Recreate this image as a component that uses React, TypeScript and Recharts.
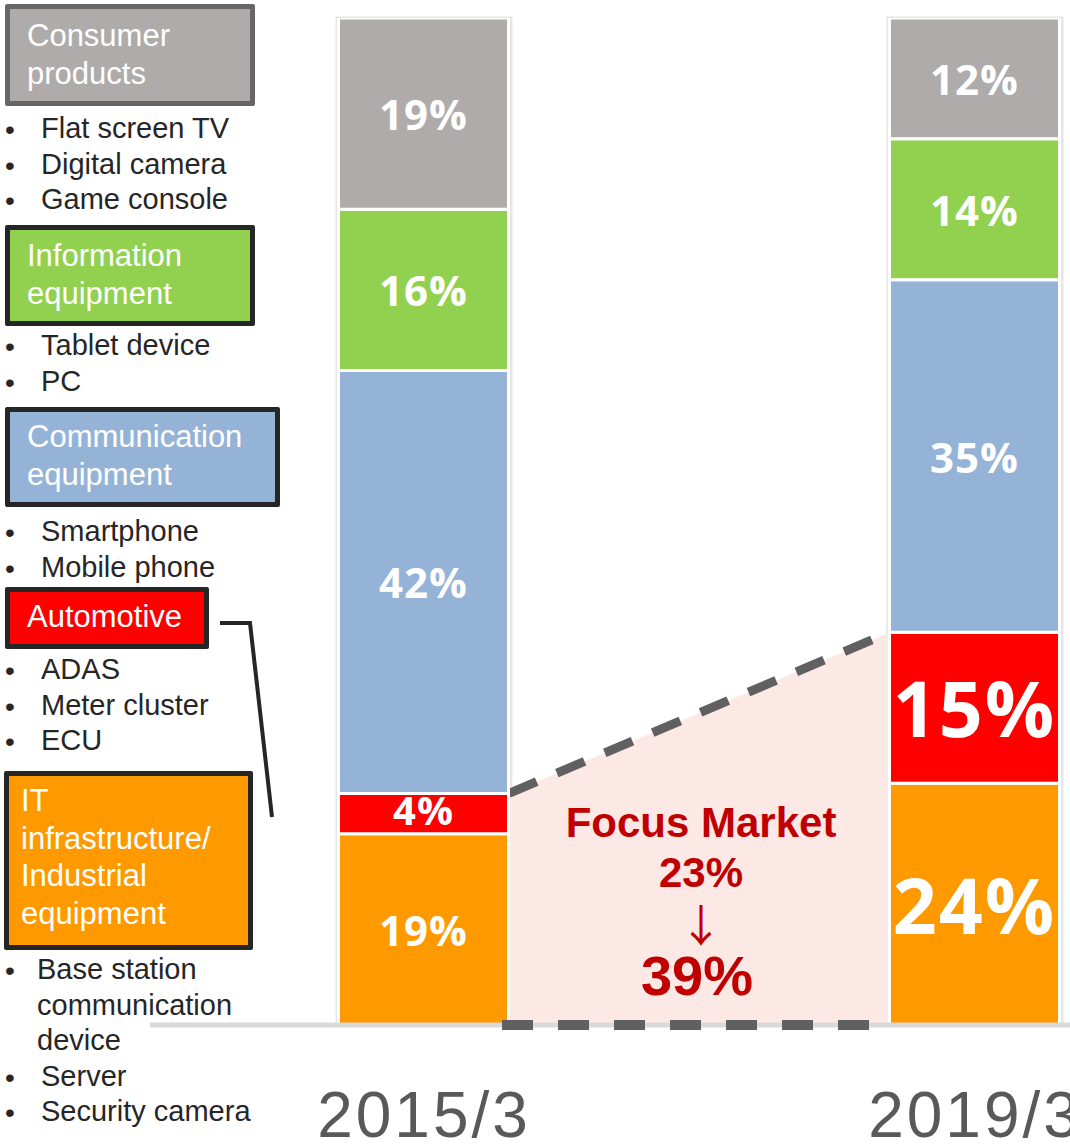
import { ComposedChart, Bar, Area, XAxis, YAxis, LabelList, ReferenceLine, ReferenceArea } from "recharts";

// data
const periods = ["2015/3", "2019/3"];
const itInfra = [19, 24];
const automotive = [4, 15];
const communication = [42, 35];
const information = [16, 14];
const consumer = [19, 12];

const segments = [
    { key: "it", color: "#ff9900", values: itInfra },
    { key: "auto", color: "#ff0000", values: automotive },
    { key: "comm", color: "#95b3d7", values: communication },
    { key: "info", color: "#92d050", values: information },
    { key: "cons", color: "#aeabaa", values: consumer },
];

const legendGroups = [
    { lines: ["Consumer", "products"], fill: "#aeabaa", border: "#666666", items: ["Flat screen TV", "Digital camera", "Game console"] },
    { lines: ["Information", "equipment"], fill: "#92d050", border: "#262626", items: ["Tablet device", "PC"] },
    { lines: ["Communication", "equipment"], fill: "#95b3d7", border: "#262626", items: ["Smartphone", "Mobile phone"] },
    { lines: ["Automotive"], fill: "#ff0000", border: "#262626", items: ["ADAS", "Meter cluster", "ECU"] },
    { lines: ["IT", "infrastructure/", "Industrial", "equipment"], fill: "#ff9900", border: "#262626", items: [["Base station", "communication", "device"], "Server", "Security camera"] },
];

// layout
const W = 1070;
const H = 1146;
const PLOT_L = 150;
const X0 = 424;
const X1 = 975;
const UNIT = X1 - X0;
const BAR = 170;
const HALF = BAR / 2 / UNIT;
const xDomain = [(PLOT_L - X0) / UNIT, 1 + (W - X1) / UNIT];

const boxLayout = [
    { x: 5, y: 4, w: 250, h: 102, tx: 17, ty: 8 },
    { x: 5, y: 225, w: 250, h: 101, tx: 17, ty: 7 },
    { x: 5, y: 407, w: 275, h: 100, tx: 17, ty: 6 },
    { x: 5, y: 587, w: 204, h: 62, tx: 17, ty: 6 },
    { x: 4, y: 771, w: 249, h: 179, tx: 12, ty: 6 },
];
const bulletStart = [129, 346, 532, 670, 970];
const STEP = 35.5;

const SANS = "'Liberation Sans', Arial, sans-serif";

const YearTick = (props: any) => {
    const { x, y, payload } = props;
    return (
        <text x={x} y={y + 112} textAnchor="middle" fill="#595959" fontSize={64} fontFamily={SANS} letterSpacing={3}>
            {periods[payload.value]}
        </text>
    );
};

const SegmentLabel = (props: any) => {
    const { x, y, width, height, value, index, seg } = props;
    const big = index === 1 && (seg === "it" || seg === "auto");
    const size = big ? 77 : seg === "auto" ? 40 : 42;
    return (
        <text
            x={x + width / 2}
            y={y + height / 2 - (seg === "auto" && index === 0 ? 4 : 0)}
            textAnchor="middle"
            dominantBaseline="central"
            fill="#fff"
            fontSize={size}
            fontWeight={700}
            fontFamily="'Open Sans', sans-serif"
            letterSpacing={big ? 2 : 1}
        >
            {value}%
        </text>
    );
};

export default function App() {
    const rows = periods.map((p, i) => {
        const r: any = { idx: i, period: p };
        segments.forEach((s) => (r[s.key] = s.values[i]));
        return r;
    });
    const focus = periods.map((_, i) => itInfra[i] + automotive[i]);
    const focusData = [
        { fx: HALF, share: focus[0] },
        { fx: 1 - HALF, share: focus[1] },
    ];

    return (
        <div style={{ position: "absolute", left: 0, top: 0, width: W, height: H, overflow: "hidden", background: "#fff" }}>
            <ComposedChart width={W} height={H} data={rows} margin={{ top: 18, right: 0, bottom: 0, left: PLOT_L }}>
                <XAxis
                    type="number"
                    dataKey="idx"
                    domain={xDomain}
                    allowDataOverflow
                    ticks={[0, 1]}
                    interval={0}
                    tick={<YearTick />}
                    tickLine={false}
                    tickSize={0}
                    tickMargin={0}
                    axisLine={false}
                    height={121}
                />
                <XAxis xAxisId="focus" type="number" dataKey="fx" domain={xDomain} allowDataOverflow hide />
                <YAxis type="number" domain={[0, 100]} hide allowDataOverflow />
                {periods.map((p, i) => (
                    <ReferenceArea
                        key={p}
                        x1={i - HALF - 2 / UNIT}
                        x2={i + HALF + 2 / UNIT}
                        y1={0}
                        y2={100}
                        fill="none"
                        stroke="#e6e6e6"
                        strokeWidth={3}
                        ifOverflow="visible"
                    />
                ))}
                <ReferenceLine y={0} stroke="#d9d9d9" strokeWidth={5} ifOverflow="visible" />
                <ReferenceLine
                    segment={[
                        { x: HALF - 7 / UNIT, y: 0 },
                        { x: 1 - HALF - 18 / UNIT, y: 0 },
                    ]}
                    stroke="#606060"
                    strokeWidth={10}
                    strokeDasharray="31 25"
                    ifOverflow="visible"
                />
                <Area
                    xAxisId="focus"
                    data={focusData}
                    dataKey="share"
                    type="linear"
                    baseValue={0}
                    fill="#fce8e4"
                    fillOpacity={1}
                    stroke="#606060"
                    strokeWidth={9}
                    strokeDasharray="30 22"
                    dot={false}
                    activeDot={false}
                    isAnimationActive={false}
                />
                {segments.map((s) => (
                    <Bar key={s.key} dataKey={s.key} stackId="share" fill={s.color} stroke="#fff" strokeWidth={3} barSize={BAR} isAnimationActive={false}>
                        <LabelList dataKey={s.key} content={(p: any) => <SegmentLabel {...p} seg={s.key} />} />
                    </Bar>
                ))}
            </ComposedChart>

            {/* focus market note */}
            <div style={{ position: "absolute", left: 501, width: 400, top: 802, textAlign: "center", color: "#c00000", fontFamily: SANS, fontWeight: 700, fontSize: 42, lineHeight: "42px" }}>
                Focus Market
            </div>
            <div style={{ position: "absolute", left: 501, width: 400, top: 852, textAlign: "center", color: "#c00000", fontFamily: SANS, fontWeight: 700, fontSize: 42, lineHeight: "42px" }}>
                {focus[0]}%
            </div>
            <div style={{ position: "absolute", left: 501, width: 400, top: 898, textAlign: "center", color: "#c00000", fontFamily: "'Noto Sans CJK JP', sans-serif", fontSize: 44, lineHeight: "50px" }}>
                ↓
            </div>
            <div style={{ position: "absolute", left: 497, width: 400, top: 948, textAlign: "center", color: "#c00000", fontFamily: SANS, fontWeight: 700, fontSize: 56, lineHeight: "56px" }}>
                {focus[1]}%
            </div>

            {/* category legend on the left */}
            {legendGroups.map((g, gi) => {
                const b = boxLayout[gi];
                let c = bulletStart[gi];
                return (
                    <div key={gi}>
                        <div
                            style={{
                                position: "absolute",
                                left: b.x,
                                top: b.y,
                                width: b.w,
                                height: b.h,
                                boxSizing: "border-box",
                                border: `5px solid ${g.border}`,
                                borderRadius: 2,
                                background: g.fill,
                            }}
                        >
                            <div style={{ position: "absolute", left: b.tx, top: b.ty, color: "#fff", fontFamily: SANS, fontSize: 31, lineHeight: "37.5px", whiteSpace: "nowrap" }}>
                                {g.lines.map((l) => (
                                    <div key={l}>{l}</div>
                                ))}
                            </div>
                        </div>
                        {g.items.map((it, ii) => {
                            const lines = Array.isArray(it) ? it : [it];
                            const top = c;
                            c += STEP * lines.length;
                            return (
                                <div key={ii}>
                                    <div style={{ position: "absolute", left: 5, top: top - 17, fontFamily: SANS, fontSize: 28, lineHeight: "35px", color: "#262626" }}>•</div>
                                    {lines.map((l, li) => (
                                        <div
                                            key={l}
                                            style={{
                                                position: "absolute",
                                                left: lines.length > 1 ? 37 : 41,
                                                top: top - 18 + li * STEP,
                                                fontFamily: SANS,
                                                fontSize: 29,
                                                lineHeight: "35px",
                                                color: "#262626",
                                                whiteSpace: "nowrap",
                                            }}
                                        >
                                            {l}
                                        </div>
                                    ))}
                                </div>
                            );
                        })}
                    </div>
                );
            })}

            {/* connector from Automotive box */}
            <svg width={W} height={H} style={{ position: "absolute", left: 0, top: 0, pointerEvents: "none" }}>
                <polyline points="220,623 250,623 272,817" fill="none" stroke="#262626" strokeWidth={4} />
            </svg>
        </div>
    );
}
